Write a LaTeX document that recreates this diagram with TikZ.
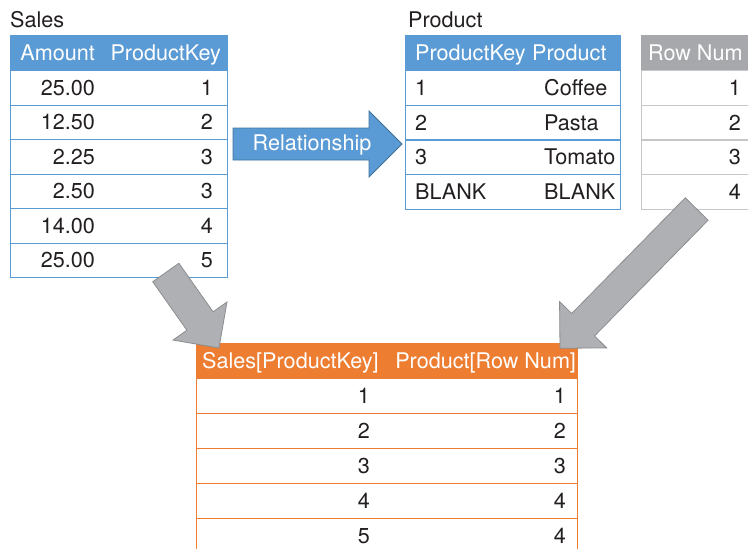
\documentclass[tikz,border=0pt]{standalone}
\usepackage{fontspec}
\setmainfont{TeX Gyre Heros}
\usetikzlibrary{calc}

\definecolor{tblblue}{HTML}{5B9BD5}
\definecolor{relblue}{HTML}{41719C}
\definecolor{tblgray}{HTML}{A6A8AB}
\definecolor{rowgray}{HTML}{C4C6C8}
\definecolor{tblorange}{HTML}{ED7D31}
\definecolor{arrgray}{HTML}{AEB0B3}
\definecolor{arredge}{HTML}{8A8C8F}
\definecolor{ink}{HTML}{231F20}

\tikzset{
  txt/.style={font=\fontsize{21.6}{25}\selectfont, inner sep=0pt,
              text height=15pt, text depth=0pt},
  cell/.style={txt, text=ink},
  head/.style={txt, text=white},
  tname/.style={txt, text=ink, anchor=west},
  box/.style={rectangle, inner sep=0pt, anchor=north west,
              minimum height=34.6pt, line width=1.2pt},
  bluehead/.style={box, fill=tblblue, draw=tblblue, minimum height=35pt},
  bluerow/.style={box, fill=white, draw=tblblue},
  grayhead/.style={box, fill=tblgray, draw=tblgray, minimum height=35pt},
  grayrow/.style={box, fill=white, draw=rowgray},
  orangehead/.style={box, fill=tblorange, draw=tblorange, minimum height=35pt},
  orangerow/.style={box, fill=white, draw=tblorange, minimum height=35pt},
  relarrow/.style={fill=tblblue, draw=relblue, line width=0.8pt},
  flowarrow/.style={fill=arrgray, draw=arredge, line width=0.8pt},
}

% block arrow: shaft 32, head 66 wide and 33 long, from #2 (tail) to #3 (tip)
\newcommand{\blockarrow}[3]{%
  \coordinate (ba-n) at ($(#3)!33pt!(#2)$);
  \draw[#1] ($(#2)!16pt!90:(#3)$) -- ($(ba-n)!16pt!90:(#3)$)
    -- ($(ba-n)!33pt!90:(#3)$) -- (#3) -- ($(ba-n)!33pt!-90:(#3)$)
    -- ($(ba-n)!16pt!-90:(#3)$) -- ($(#2)!16pt!-90:(#3)$) -- cycle;
}

\begin{document}
\begin{tikzpicture}[x=1pt, y=-1pt]

\useasboundingbox (0,0) rectangle (748,549);
\clip (0,0) rectangle (748,549);

% ---------------------------------------------------------------- Sales
\node[tname] (salesname) at (10,20) {Sales};
\node[bluehead, minimum width=217pt] (sh) at (10,35) {};
\node[head, anchor=east] at ($(sh.west)+(85,0)$) {Amount};
\node[head, anchor=east] at ($(sh.east)+(-7,0)$) {ProductKey};
\foreach \a/\k [count=\i] in {25.00/1, 12.50/2, 2.25/3, 2.50/3, 14.00/4, 25.00/5} {
    \pgfmathsetmacro{\y}{70+34.5*(\i-1)}
    \node[bluerow, minimum width=217pt] (s\i) at (10,\y) {};
    \node[cell, anchor=east] at ($(s\i.west)+(85,0)$) {\a};
    \node[cell, anchor=east] at ($(s\i.east)+(-15,0)$) {\k};
}

% ---------------------------------------------------------------- Product
\node[tname] (prodname) at (408,20) {Product};
\node[bluehead, minimum width=215pt] (ph) at (405,35) {};
\node[head, anchor=west] at ($(ph.west)+(10,0)$) {ProductKey};
\node[head, anchor=west] at ($(ph.west)+(127,0)$) {Product};
\foreach \k/\p [count=\i] in {1/Coffee, 2/Pasta, 3/Tomato, BLANK/BLANK} {
    \pgfmathsetmacro{\y}{70+34.7*(\i-1)}
    \node[bluerow, minimum width=215pt] (p\i) at (405,\y) {};
    \node[cell, anchor=west] at ($(p\i.west)+(10,0)$) {\k};
    \node[cell, anchor=west] at ($(p\i.west)+(139,0)$) {\p};
}

% ---------------------------------------------------------------- Row Num
\node[grayhead, minimum width=140pt] (rh) at (641,35) {};
\node[head, anchor=west] at ($(rh.west)+(7,0)$) {Row Num};
\foreach \n in {1,...,4} {
    \pgfmathsetmacro{\y}{70+34.7*(\n-1)}
    \node[grayrow, minimum width=140pt] (r\n) at (641,\y) {};
    \node[cell, anchor=east] at ($(r\n.west)+(100,0)$) {\n};
}

% ---------------------------------------------------------------- result
\node[orangehead, minimum width=381pt] (oh) at (196,343) {};
\node[head, anchor=west] at ($(oh.west)+(6,0)$) {Sales[ProductKey]};
\node[head, anchor=east] at ($(oh.east)+(-2,0)$) {Product[Row Num]};
\foreach \k/\n [count=\i] in {1/1, 2/2, 3/3, 4/4, 5/4} {
    \pgfmathsetmacro{\y}{378+35*(\i-1)}
    \node[orangerow, minimum width=381pt] (o\i) at (196,\y) {};
    \node[cell, anchor=east] at ($(o\i.west)+(174,0)$) {\k};
    \node[cell, anchor=east] at ($(o\i.east)+(-12,0)$) {\n};
}

% ---------------------------------------------------------------- arrows
\coordinate (relfrom) at (233,144);
\coordinate (relto) at (402,144);
\blockarrow{relarrow}{relfrom}{relto}
\node[head] (rel) at (312,143) {Relationship};

\coordinate (salesout) at (165.8,272.5);
\coordinate (leftin) at (219,348);
\blockarrow{flowarrow}{salesout}{leftin}

\coordinate (rowout) at (696.7,209);
\coordinate (rightin) at (560,348.3);
\blockarrow{flowarrow}{rowout}{rightin}

\end{tikzpicture}
\end{document}
